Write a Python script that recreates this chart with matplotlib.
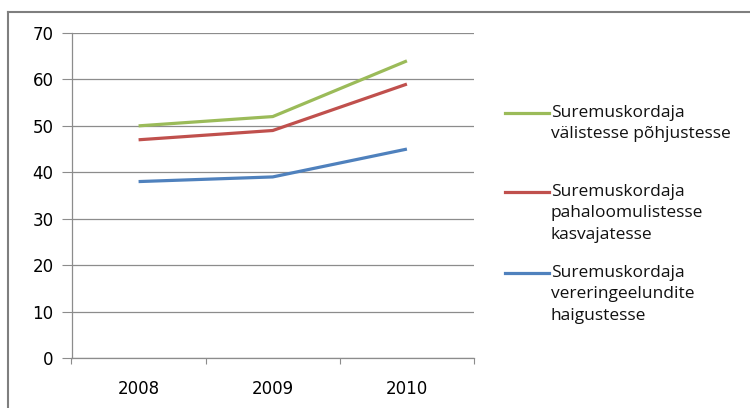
import matplotlib
matplotlib.use('Agg')
import matplotlib.pyplot as plt
from matplotlib.lines import Line2D
import numpy as np

years = ['2008', '2009', '2010']
valised = [50, 52, 64]
pahaloomulised = [47, 49, 59]
vereringe = [38, 39, 45]

series = [
    (valised, '#9BBB59', 'Suremuskordaja\nvälistesse põhjustesse'),
    (pahaloomulised, '#C0504D', 'Suremuskordaja\npahaloomulistesse\nkasvajatesse'),
    (vereringe, '#4F81BD', 'Suremuskordaja\nvereringeelundite\nhaigustesse'),
]

W, H = 750, 408
fig = plt.figure(figsize=(7.5, 4.08), dpi=100)
ax = fig.add_axes([71.5 / W, 50 / H, (474 - 71.5) / W, (358 - 33) / H])

x = np.arange(len(years))
for vals, col, _ in series:
    ax.plot(x, vals, color=col, linewidth=2.3, solid_capstyle='butt')

ax.set_ylim(0, 70)
ax.set_yticks(range(0, 71, 10))
ax.set_xlim(-0.5, len(years) - 0.5)
ax.set_xticks(np.arange(-0.5, len(years), 1.0))
ax.set_xticklabels([])
ax.set_xticks(x, minor=True)
ax.set_xticklabels(years, minor=True)
ax.tick_params(axis='x', which='minor', length=0, pad=16, labelsize=12)
ax.tick_params(axis='x', which='major', length=4, color='#8c8c8c', direction='out')
ax.tick_params(axis='y', length=7, color='#8c8c8c', labelsize=12, pad=6)
ax.grid(axis='y', color='#8c8c8c', linewidth=0.9)
ax.set_axisbelow(True)
for s in ['top', 'right']:
    ax.spines[s].set_visible(False)
for s in ['left', 'bottom']:
    ax.spines[s].set_color('#8c8c8c')
    ax.spines[s].set_linewidth(0.9)

# legend drawn by hand so the marker lines up with the first text line
tops = [113, 192, 273]
for (vals, col, label), yc in zip(series, tops):
    fy = 1 - yc / H
    fig.add_artist(Line2D([505 / W, 549 / W], [fy, fy], color=col, linewidth=2.3,
                          transform=fig.transFigure))
    fig.text(551 / W, 1 - (yc - 8) / H, label, va='top', ha='left', fontsize=12.5,
             family='Open Sans', linespacing=1.45, color='#111111',
             transform=fig.transFigure)

# chart border (only the top and left edges fall inside the picture)
fig.add_artist(Line2D([8 / W, 8 / W], [0, 1 - 12 / H], color='#7f7f7f', linewidth=1.5,
                      transform=fig.transFigure))
fig.add_artist(Line2D([8 / W, 1], [1 - 12 / H, 1 - 12 / H], color='#7f7f7f', linewidth=1.5,
                      transform=fig.transFigure))

fig.savefig('out.png', dpi=100)
